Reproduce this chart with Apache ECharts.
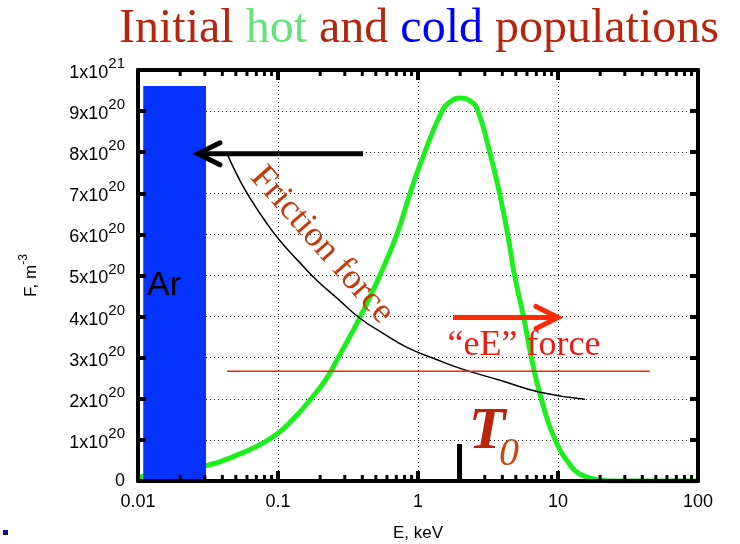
<!DOCTYPE html>
<html><head><meta charset="utf-8">
<script src="https://cdn.jsdelivr.net/npm/echarts@6/dist/echarts.min.js"></script>
<style>html,body{margin:0;padding:0;background:#fff}#c{width:740px;height:544px}</style>
</head><body><div id="c"></div>
<script>
// ---- data (E in keV, F in units of 1e20 m^-3) ----
const hotE = [0.0103, 0.0306, 0.0562, 0.075, 0.1, 0.128, 0.169, 0.223, 0.268, 0.385, 0.534, 0.71, 0.876, 1.12, 1.5, 1.69, 1.98, 2.35, 2.66, 3.25, 3.83, 4.37, 4.91, 5.69, 6.49, 7.64, 9.55, 12.5, 14.3, 17.3, 23.6, 40, 100];
const hotF = [0.097, 0.37, 0.69, 0.89, 1.16, 1.5, 1.97, 2.5, 2.99, 3.98, 5.0, 6.02, 6.99, 8.01, 9.03, 9.22, 9.32, 9.25, 9.03, 8.01, 6.99, 6.0, 4.98, 3.98, 2.96, 1.97, 1.0, 0.34, 0.17, 0.06, 0.0, 0.0, 0.0];
const fricE = [0.0439, 0.0535, 0.063, 0.08, 0.103, 0.14, 0.19, 0.27, 0.385, 0.56, 0.834, 1.3, 2.0, 3.85, 7.44, 15.6];
const fricF = [7.91, 7.31, 6.89, 6.35, 5.85, 5.35, 4.88, 4.42, 3.96, 3.6, 3.25, 2.98, 2.74, 2.45, 2.16, 1.99];
const eEForceE = [0.0433, 45.4];
const eEForceF = [2.67, 2.67];
const coldE = [0.0109, 0.0306];
const coldF = [9.61];
const frictionArrow = [0.405, 7.96, 0.0268, 7.96];
const eEArrow = [1.78, 3.98, 10, 3.98];
const T0Mark = [1.98, 0.9];
const xTicks = [0.01, 0.1, 1, 10, 100];
const xTickLabels = ['0.01', '0.1', '1', '10', '100'];
const yTickLabels = ['0', '1x10^20', '2x10^20', '3x10^20', '4x10^20', '5x10^20', '6x10^20', '7x10^20', '8x10^20', '9x10^20', '1x10^21'];
const minorTicksE = [0.02,0.03,0.04,0.05,0.06,0.07,0.08,0.09,0.2,0.3,0.4,0.5,0.6,0.7,0.8,0.9,2,3,4,5,6,7,8,9,20,30,40,50,60,70,80,90];

const SANS = 'Liberation Sans, Arial, Helvetica, sans-serif';
const SERIF = 'Liberation Serif, Times New Roman, serif';

const chart = echarts.init(document.getElementById('c'));

function xLabel(v) {
  const i = xTicks.findIndex(t => Math.abs(Math.log10(t) - Math.log10(v)) < 1e-6);
  return i >= 0 ? xTickLabels[i] : '';
}
function yLabel(v) {
  const s = yTickLabels[Math.round(v)];
  if (s === undefined) return '';
  if (s.indexOf('^') < 0) return '{z|' + s + '}';
  const p = s.split('^');
  return '{m|' + p[0] + '}{e|' + p[1] + '}';
}

const frameAxisLine = { show: true, onZero: false, lineStyle: { color: '#000', width: 4 } };
const dotted = { show: true, lineStyle: { type: [1, 3], color: '#222', width: 1 } };
const xMajorTick = { show: true, inside: true, length: 10, lineStyle: { color: '#000', width: 4 } };
const yMajorTick = { show: true, inside: true, length: 8, lineStyle: { color: '#000', width: 4 } };

function arrowItem(color) {
  return function (params, api) {
    const p0 = api.coord([api.value(0), api.value(1)]);
    const p1 = api.coord([api.value(2), api.value(3)]);
    const dx = p1[0] - p0[0], dy = p1[1] - p0[1];
    const len = Math.sqrt(dx * dx + dy * dy);
    const ux = dx / len, uy = dy / len, nx = -uy, ny = ux;
    const L = 22, W = 11;
    return {
      type: 'group', children: [
        { type: 'line', shape: { x1: p0[0], y1: p0[1], x2: p1[0] - ux * 2, y2: p1[1] - uy * 2 }, style: { stroke: color, lineWidth: 5 } },
        { type: 'polyline', shape: { points: [[p1[0] - ux * L + nx * W, p1[1] - uy * L + ny * W], [p1[0], p1[1]], [p1[0] - ux * L - nx * W, p1[1] - uy * L - ny * W]] }, style: { stroke: color, lineWidth: 5, fill: null, lineJoin: 'miter', lineCap: 'round' } }
      ]
    };
  };
}

const option = {
  animation: false,
  backgroundColor: '#fff',
  grid: { left: 138, right: 42, top: 70, bottom: 63, outerBoundsMode: 'none' },
  xAxis: [
    { type: 'log', logBase: 10, min: 0.01, max: 100, position: 'bottom', z: 10,
      axisLine: frameAxisLine, axisTick: xMajorTick,
      axisLabel: { formatter: xLabel, color: '#000', fontSize: 18, fontFamily: SANS, margin: 12 },
      splitLine: { show: false },
      name: 'E, keV', nameLocation: 'middle', nameGap: 44,
      nameTextStyle: { color: '#000', fontSize: 17, fontFamily: SANS } },
    { type: 'log', logBase: 10, min: 0.01, max: 100, position: 'top', z: 10,
      axisLine: frameAxisLine, axisTick: xMajorTick,
      axisLabel: { show: false }, splitLine: { show: false } },
    { type: 'log', logBase: 10, min: 0.01, max: 100, position: 'bottom', z: 0,
      axisLine: { show: false }, axisTick: { show: false }, axisLabel: { show: false },
      splitLine: dotted }
  ],
  yAxis: [
    { type: 'value', min: 0, max: 10, interval: 1, position: 'left', z: 10,
      axisLine: frameAxisLine, axisTick: yMajorTick,
      axisLabel: { formatter: yLabel, color: '#000', margin: 13,
        rich: {
          z: { fontSize: 18, fontFamily: SANS, color: '#000' },
          m: { fontSize: 18, fontFamily: SANS, color: '#000', padding: [6, 0, 0, 0] },
          e: { fontSize: 15, fontFamily: SANS, color: '#000', padding: [0, 0, 12, 0] }
        } },
      splitLine: { show: false },
      name: '{a|F, m}{b|-3}', nameLocation: 'middle', nameGap: 98, nameRotate: 90,
      nameTextStyle: { rich: {
        a: { fontSize: 17, fontFamily: SANS, color: '#000', padding: [5, 0, 0, 0] },
        b: { fontSize: 12, fontFamily: SANS, color: '#000', padding: [0, 0, 10, 0] }
      } } },
    { type: 'value', min: 0, max: 10, interval: 1, position: 'right', z: 10,
      axisLine: frameAxisLine, axisTick: yMajorTick,
      axisLabel: { show: false }, splitLine: { show: false } },
    { type: 'value', min: 0, max: 10, interval: 1, position: 'left', z: 0,
      axisLine: { show: false }, axisTick: { show: false }, axisLabel: { show: false },
      splitLine: dotted }
  ],
  series: [
    { name: 'hot', type: 'line', z: 3, data: hotE.map((e, i) => [e, hotF[i]]),
      smooth: 0.5, showSymbol: false, symbol: 'none',
      lineStyle: { color: '#1cf01c', width: 5 } },
    { name: 'friction', type: 'line', z: 4, data: fricE.map((e, i) => [e, fricF[i]]),
      smooth: 0.5, showSymbol: false, symbol: 'none',
      lineStyle: { color: '#000', width: 1.5 } },
    { name: 'eE', type: 'line', z: 4, data: eEForceE.map((e, i) => [e, eEForceF[i]]),
      showSymbol: false, symbol: 'none',
      lineStyle: { color: '#ff2200', width: 1.5 } },
    { name: 'cold', type: 'custom', z: 5, data: [[coldE[0], coldE[1], coldF[0]]],
      renderItem: function (params, api) {
        const a = api.coord([api.value(0), api.value(2)]);
        const b = api.coord([api.value(1), 0]);
        return { type: 'rect', shape: { x: a[0], y: a[1], width: b[0] - a[0], height: b[1] - a[1] }, style: { fill: '#0433ff' } };
      } },
    { name: 'T0', type: 'custom', z: 5, data: [T0Mark],
      renderItem: function (params, api) {
        const a = api.coord([api.value(0), api.value(1)]);
        const b = api.coord([api.value(0), 0]);
        return { type: 'line', shape: { x1: a[0], y1: a[1], x2: b[0], y2: b[1] }, style: { stroke: '#000', lineWidth: 5 } };
      } },
    { name: 'frictionArrow', type: 'custom', z: 6, data: [frictionArrow], renderItem: arrowItem('#000') },
    { name: 'eEArrow', type: 'custom', z: 6, data: [eEArrow], renderItem: arrowItem('#ff2a00') },
    { name: 'minorTicks', type: 'custom', z: 12, data: minorTicksE.map(v => [v, 5]),
      renderItem: function (params, api) {
        const b = api.coord([api.value(0), 0]);
        const t = api.coord([api.value(0), 10]);
        return { type: 'group', children: [
          { type: 'rect', shape: { x: b[0] - 1.5, y: b[1] - 6, width: 3, height: 6 }, style: { fill: '#000' } },
          { type: 'rect', shape: { x: t[0] - 1.5, y: t[1], width: 3, height: 6 }, style: { fill: '#000' } }
        ] };
      } }
  ],
  graphic: [
    { type: 'text', x: 419, y: 29, z: 20, style: {
        text: '{r|Initial} {g|hot} {r|and} {b|cold} {r|populations}',
        align: 'center', verticalAlign: 'middle', fontSize: 48, fontFamily: SERIF, fill: '#b8250e',
        rich: {
          r: { fontSize: 48, fontFamily: SERIF, fill: '#b8250e', color: '#b8250e' },
          g: { fontSize: 48, fontFamily: SERIF, fill: '#66e27a', color: '#66e27a' },
          b: { fontSize: 48, fontFamily: SERIF, fill: '#0000ff', color: '#0000ff' }
        } } },
    { type: 'text', x: 147, y: 286, z: 20, style: { text: 'Ar', fontSize: 34, fontFamily: SANS, fill: '#000', align: 'left', verticalAlign: 'middle' } },
    { type: 'text', x: 322, y: 245, rotation: -0.845, z: 20, style: { text: 'Friction force', fontSize: 36, fontFamily: SERIF, fill: '#c43a0c', align: 'center', verticalAlign: 'middle' } },
    { type: 'text', x: 524, y: 346, z: 20, style: { text: '\u201ceE\u201d force', fontSize: 36, fontFamily: SERIF, fill: '#f21a10', align: 'center', verticalAlign: 'middle' } },
    { type: 'text', x: 487, y: 432, z: 20, style: { text: 'T', fontSize: 60, fontFamily: SERIF, fontWeight: 'bold', fontStyle: 'italic', fill: '#b8260a', align: 'center', verticalAlign: 'middle' } },
    { type: 'text', x: 509, y: 454, z: 20, style: { text: '0', fontSize: 40, fontFamily: SERIF, fontStyle: 'italic', fill: '#d2450f', align: 'center', verticalAlign: 'middle' } },
    { type: 'rect', z: 20, shape: { x: 3, y: 530, width: 5, height: 5 }, style: { fill: '#10108a' } }
  ]
};
chart.setOption(option);
</script>
</body></html>
